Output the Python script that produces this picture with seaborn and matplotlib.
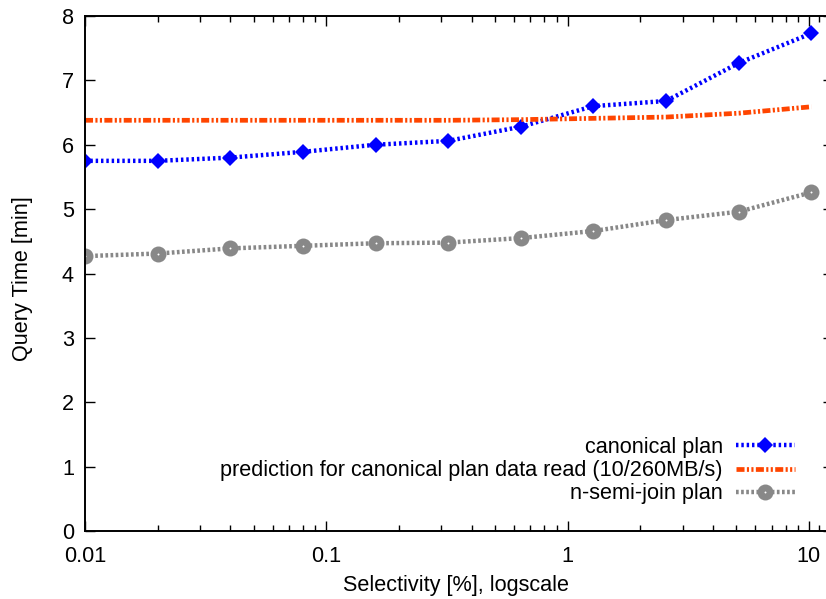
import matplotlib
matplotlib.use("Agg")
import matplotlib.pyplot as plt
import seaborn as sns
import pandas as pd
from matplotlib.ticker import FixedLocator, FixedFormatter, NullFormatter
from matplotlib.legend_handler import HandlerTuple

# Measured query times per selectivity setting
selectivity = [0.01, 0.02, 0.04, 0.08, 0.16, 0.32, 0.64, 1.28, 2.56, 5.12, 10.24]
canonical = [5.75, 5.75, 5.80, 5.89, 6.00, 6.06, 6.28, 6.60, 6.68, 7.27, 7.73]
prediction = [6.38, 6.38, 6.38, 6.38, 6.38, 6.38, 6.39, 6.41, 6.43, 6.49, 6.59]
semi_join = [4.27, 4.31, 4.39, 4.43, 4.47, 4.48, 4.55, 4.66, 4.83, 4.96, 5.26]

series_labels = [
    "canonical plan",
    "prediction for canonical plan data read (10/260MB/s)",
    "n-semi-join plan",
]
x_ticks = [0.01, 0.1, 1, 10]
x_tick_labels = ["0.01", "0.1", "1", "10"]
x_minor = [m * d for d in (0.01, 0.1, 1) for m in range(2, 10)] + [11, 12]
y_ticks = list(range(0, 9))

df = pd.DataFrame({
    "sel": selectivity,
    "canonical": canonical,
    "prediction": prediction,
    "semi": semi_join,
})

sns.set_style("ticks")
plt.rcParams["font.family"] = ["Liberation Sans", "DejaVu Sans"]
plt.rcParams["text.color"] = "black"
plt.rcParams["axes.labelcolor"] = "black"
FS = 15.55

fig = plt.figure(figsize=(8.26, 5.99), dpi=100)
W, H = 826, 599
ax = fig.add_axes([85 / W, (H - 531) / H, 748 / W, 515 / H])

blue = "#0000ff"
orange = "#ff4500"
gray = "#888888"

sns.lineplot(data=df, x="sel", y="canonical", ax=ax, color=blue, lw=3.2,
             linestyle=(0, (0.55, 0.65)), marker="D", markersize=8.2,
             markeredgewidth=0, label=series_labels[0])
sns.lineplot(data=df, x="sel", y="prediction", ax=ax, color=orange, lw=3.4,
             linestyle=(0, (1.7, 0.5, 0.45, 0.5, 0.45, 0.5)),
             label=series_labels[1])
sns.lineplot(data=df, x="sel", y="semi", ax=ax, color=gray, lw=3.2,
             linestyle=(0, (0.6, 0.55)), marker="o", markersize=11.5,
             markeredgewidth=0, label=series_labels[2])
# small light centre in each circle marker
centre, = ax.plot(df["sel"], df["semi"], linestyle="none", marker="o",
                  markersize=1.4, color="white", markeredgewidth=0)

ax.set_xscale("log")
ax.set_xlim(0.01, 10 ** ((748 / 241.3) - 2))
ax.set_ylim(0, 8)

ax.xaxis.set_major_locator(FixedLocator(x_ticks))
ax.xaxis.set_major_formatter(FixedFormatter(x_tick_labels))
ax.xaxis.set_minor_locator(FixedLocator(x_minor))
ax.xaxis.set_minor_formatter(NullFormatter())
ax.set_yticks(y_ticks)
ax.set_yticklabels([str(v) for v in y_ticks])

ax.tick_params(which="both", direction="in", top=True, right=True,
               colors="black", labelcolor="black", labelsize=FS)
ax.tick_params(which="major", length=7, width=1.0, pad=8)
ax.tick_params(which="minor", length=4, width=1.0)
ax.tick_params(axis="x", which="major", pad=11)
for sp in ax.spines.values():
    sp.set_visible(True)
    sp.set_color("black")
    sp.set_linewidth(1.4)

ax.set_xlabel("Selectivity [%], logscale", fontsize=FS, color="black")
ax.set_ylabel("Query Time [min]", fontsize=FS, color="black")
ax.xaxis.set_label_coords(0.5 * 742 / 748, -(586 - 531) / 515)
ax.xaxis.label.set_va("center")
ax.yaxis.set_label_coords(-(85 - 23) / 748, 0.49)
ax.yaxis.label.set_va("center")

handles, labels = ax.get_legend_handles_labels()
handles[2] = (handles[2], centre)
leg = ax.legend(handles, labels, loc="upper right",
                bbox_to_anchor=(795 / W, 1 - 437 / H), bbox_transform=fig.transFigure,
                frameon=False, markerfirst=False, fontsize=FS,
                handlelength=2.75, handletextpad=0.6, labelspacing=0.1,
                borderpad=0, borderaxespad=0, numpoints=1,
                handler_map={tuple: HandlerTuple(ndivide=1)})
for t in leg.get_texts():
    t.set_color("black")

fig.savefig("out.png", dpi=100)
